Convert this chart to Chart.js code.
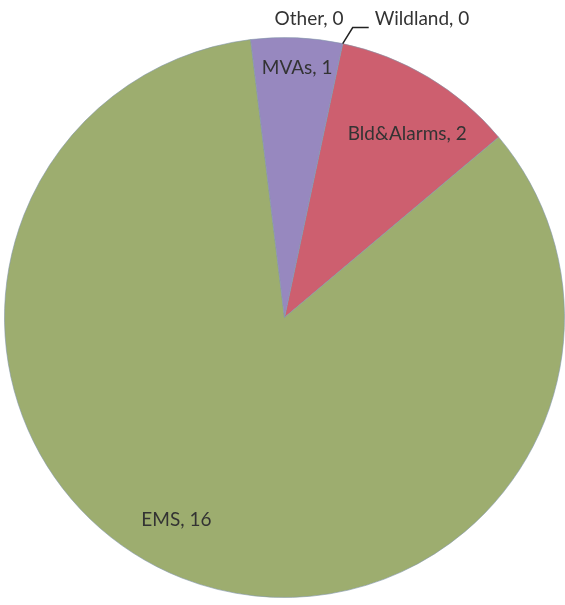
<!DOCTYPE html>
<html>
<head>
<meta charset="utf-8">
<script src="https://cdn.jsdelivr.net/npm/chart.js@4/dist/chart.umd.min.js"></script>
<style>
  html, body { margin: 0; padding: 0; background: #fff; }
  #wrap { width: 565px; height: 605px; }
</style>
</head>
<body>
<div id="wrap"><canvas id="js-pie"></canvas></div>
<script>
'use strict'

const categories = ['Wildland', 'Bld&Alarms', 'EMS', 'MVAs', 'Other']
const calls = [0, 2, 16, 1, 0]

const colors = {
  wildland: '#4f81bd',
  alarms: '#cd5f6f',
  ems: '#9dad6f',
  mvas: '#9788bf',
  other: '#f79646',
  text: '#333333'
}

// where each data label sits: angle from 12 o'clock (deg) and distance as a fraction of radius
const labelSpots = {
  'Wildland': { angle: 24.7, r: 1.175 },
  'Bld&Alarms': { angle: 33.7, r: 0.79 },
  'EMS': { angle: 208.1, r: 0.82 },
  'MVAs': { angle: 2.9, r: 0.894 },
  'Other': { angle: 4.7, r: 1.071 }
}

const pieLabelPlugin = {
  id: 'pieLabels',
  afterDatasetsDraw(chart) {
    const ctx = chart.ctx
    const meta = chart.getDatasetMeta(0)
    const arc = meta.data[0]
    const cx = arc.x, cy = arc.y, R = arc.outerRadius

    ctx.save()
    ctx.font = '19px Lato, "Open Sans", sans-serif'
    ctx.fillStyle = colors.text
    ctx.textAlign = 'center'
    ctx.textBaseline = 'middle'

    chart.data.labels.forEach((name, i) => {
      const spot = labelSpots[name]
      const a = spot.angle * Math.PI / 180
      const x = cx + Math.sin(a) * R * spot.r
      const y = cy - Math.cos(a) * R * spot.r
      ctx.fillText(`${name}, ${chart.data.datasets[0].data[i]}`, x, y)
    })

    // leader line for the zero Wildland slice
    const a0 = 12 * Math.PI / 180
    const ex = cx + Math.sin(a0) * R
    const ey = cy - Math.cos(a0) * R
    ctx.strokeStyle = '#222'
    ctx.lineWidth = 1.5
    ctx.beginPath()
    ctx.moveTo(ex, ey)
    ctx.lineTo(ex + 10, ey - 16)
    ctx.lineTo(ex + 26, ey - 16)
    ctx.stroke()
    ctx.restore()
  }
}

new Chart(document.getElementById('js-pie'), {
  type: 'pie',
  data: {
    labels: categories,
    datasets: [{
      data: calls,
      backgroundColor: [colors.wildland, colors.alarms, colors.ems, colors.mvas, colors.other],
      borderColor: 'rgba(130,150,170,0.6)',
      borderWidth: 1
    }]
  },
  options: {
    responsive: true,
    maintainAspectRatio: false,
    animation: false,
    rotation: 12,
    layout: {
      padding: { left: 4, right: 0, top: 35, bottom: 5 }
    },
    plugins: {
      legend: { display: false },
      tooltip: { enabled: false }
    }
  },
  plugins: [pieLabelPlugin]
})
</script>
</body>
</html>
